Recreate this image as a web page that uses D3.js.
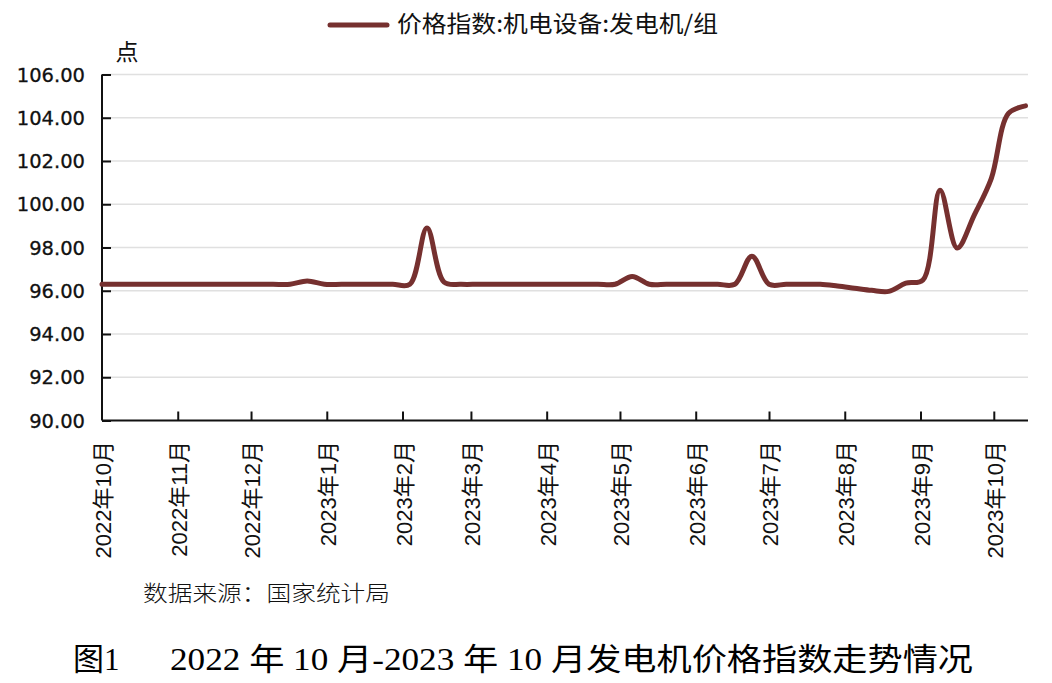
<!DOCTYPE html>
<html><head><meta charset="utf-8">
<script src="https://cdn.jsdelivr.net/npm/d3@7"></script>
<style>
html,body{margin:0;padding:0;background:#fff;}
svg{display:block;}
</style></head>
<body>
<svg id="chart" width="1052" height="683"></svg>
<script>
// ---- data ----
const dates = [
"2022-10-01","2022-10-08","2022-10-15","2022-10-22","2022-10-29",
"2022-11-05","2022-11-12","2022-11-19","2022-11-26",
"2022-12-03","2022-12-10","2022-12-17","2022-12-24","2022-12-31",
"2023-01-07","2023-01-14","2023-01-21","2023-01-28",
"2023-02-04","2023-02-11","2023-02-18","2023-02-25",
"2023-03-04","2023-03-11","2023-03-18","2023-03-25",
"2023-04-01","2023-04-08","2023-04-15","2023-04-22","2023-04-29",
"2023-05-06","2023-05-13","2023-05-20","2023-05-27",
"2023-06-03","2023-06-10","2023-06-17","2023-06-24",
"2023-07-01","2023-07-08","2023-07-15","2023-07-22","2023-07-29",
"2023-08-05","2023-08-12","2023-08-19","2023-08-26",
"2023-09-02","2023-09-09","2023-09-16","2023-09-23","2023-09-30",
"2023-10-07","2023-10-14"];
const values = [
96.3,96.3,96.3,96.3,96.3,
96.3,96.3,96.3,96.3,
96.3,96.3,96.3,96.45,96.3,
96.3,96.3,96.3,96.3,
96.3,98.9,96.4,96.3,
96.3,96.3,96.3,96.3,
96.3,96.3,96.3,96.3,96.3,
96.66,96.3,96.3,96.3,
96.3,96.3,96.3,97.6,
96.3,96.3,96.3,96.3,96.22,
96.12,96.02,95.97,96.35,
96.5,100.65,97.98,99.5,101.2,
104.2,104.55];
const monthTicks = ["2022-10-01","2022-11-01","2022-12-01","2023-01-01","2023-02-01","2023-03-01",
"2023-04-01","2023-05-01","2023-06-01","2023-07-01","2023-08-01","2023-09-01","2023-10-01"];
const monthLabels = ["2022年10月","2022年11月","2022年12月","2023年1月","2023年2月","2023年3月",
"2023年4月","2023年5月","2023年6月","2023年7月","2023年8月","2023年9月","2023年10月"];
const yTicks = [90,92,94,96,98,100,102,104,106];
const seriesName = "价格指数:机电设备:发电机/组";
const unitLabel = "点";
const sourceText = "数据来源：国家统计局";
const figLabel = "图1";
const titleText = "2022 年 10 月-2023 年 10 月发电机价格指数走势情况";

// ---- drawing ----
const parse = d3.utcParse("%Y-%m-%d");
const svg = d3.select("#chart");
const LINE = "#76302f";
const cjk = "'Noto Sans CJK SC', sans-serif";

const x = d3.scaleUtc().domain([parse("2022-10-01"), parse("2023-10-15")]).range([102, 1028]);
const y = d3.scaleLinear().domain([90, 106]).range([420.5, 74.5]);

// gridlines
svg.append("g").selectAll("line").data(yTicks.filter(v => v > 90)).join("line")
  .attr("x1", 103).attr("x2", 1028)
  .attr("y1", d => y(d)).attr("y2", d => y(d))
  .attr("stroke", "#e0e0e0").attr("stroke-width", 1.6);

// y axis
const yAxis = d3.axisRight(y).tickValues(yTicks).tickSize(9).tickFormat("");
const gy = svg.append("g").attr("transform", "translate(102,0)").call(yAxis);
gy.select(".domain").attr("d", `M0,${y(106)}V${y(90)}`).attr("stroke", "#111").attr("stroke-width", 2);
gy.selectAll(".tick line").attr("stroke", "#111").attr("stroke-width", 2);

svg.append("g").selectAll("text").data(yTicks).join("text")
  .attr("x", 85).attr("y", d => y(d)).attr("dy", "0.36em")
  .attr("text-anchor", "end")
  .attr("font-family", "'DejaVu Sans', sans-serif").attr("font-size", 19.5)
  .attr("fill", "#111").attr("stroke", "#111").attr("stroke-width", 0.3)
  .text(d => d.toFixed(2));

// x axis
const xAxis = d3.axisTop(x).tickValues(monthTicks.slice(1).map(parse)).tickSize(9).tickFormat("");
const gx = svg.append("g").attr("transform", `translate(0,${y(90)})`).call(xAxis);
gx.select(".domain").attr("d", `M102,0H1028`).attr("stroke", "#111").attr("stroke-width", 2);
gx.selectAll(".tick line").attr("stroke", "#111").attr("stroke-width", 2);

svg.append("g").selectAll("text").data(monthTicks).join("text")
  .attr("transform", (d) => `translate(${x(parse(d)) + 1.5},441) rotate(-90)`)
  .attr("text-anchor", "end").attr("dy", "0.35em")
  .attr("font-family", "'Liberation Sans', " + cjk).attr("font-size", 22)
  .attr("fill", "#111")
  .text((d, i) => monthLabels[i]);

// line
const line = d3.line()
  .x((d, i) => x(parse(dates[i])))
  .y(d => y(d))
  .curve(d3.curveCatmullRom.alpha(0.5));
svg.append("path").datum(values)
  .attr("d", line)
  .attr("fill", "none").attr("stroke", LINE).attr("stroke-width", 5)
  .attr("stroke-linejoin", "round").attr("stroke-linecap", "round");

// unit
svg.append("text").attr("x", 127).attr("y", 60).attr("text-anchor", "middle")
  .attr("font-family", cjk).attr("font-size", 23).attr("fill", "#111").text(unitLabel);

// legend
svg.append("line").attr("x1", 330).attr("x2", 387).attr("y1", 25).attr("y2", 25)
  .attr("stroke", LINE).attr("stroke-width", 5).attr("stroke-linecap", "round");
svg.append("text").attr("x", 397).attr("y", 24).attr("dy", "0.36em")
  .attr("font-family", cjk).attr("font-size", 23).attr("fill", "#111")
  .attr("textLength", 321).attr("lengthAdjust", "spacingAndGlyphs")
  .text(seriesName);

// source
svg.append("text").attr("x", 143).attr("y", 601)
  .attr("font-family", cjk).attr("font-size", 22).attr("font-weight", 300).attr("fill", "#111")
  .attr("textLength", 247).attr("lengthAdjust", "spacingAndGlyphs")
  .text(sourceText);

// title
svg.append("text").attr("x", 73).attr("y", 670)
  .attr("font-family", "'Liberation Serif', " + cjk).attr("font-size", 31).attr("fill", "#000")
  .text(figLabel);
svg.append("text").attr("x", 170).attr("y", 670)
  .attr("font-family", "'Liberation Serif', " + cjk).attr("font-size", 31).attr("fill", "#000")
  .attr("textLength", 803).attr("lengthAdjust", "spacingAndGlyphs")
  .text(titleText);
</script>
</body></html>
